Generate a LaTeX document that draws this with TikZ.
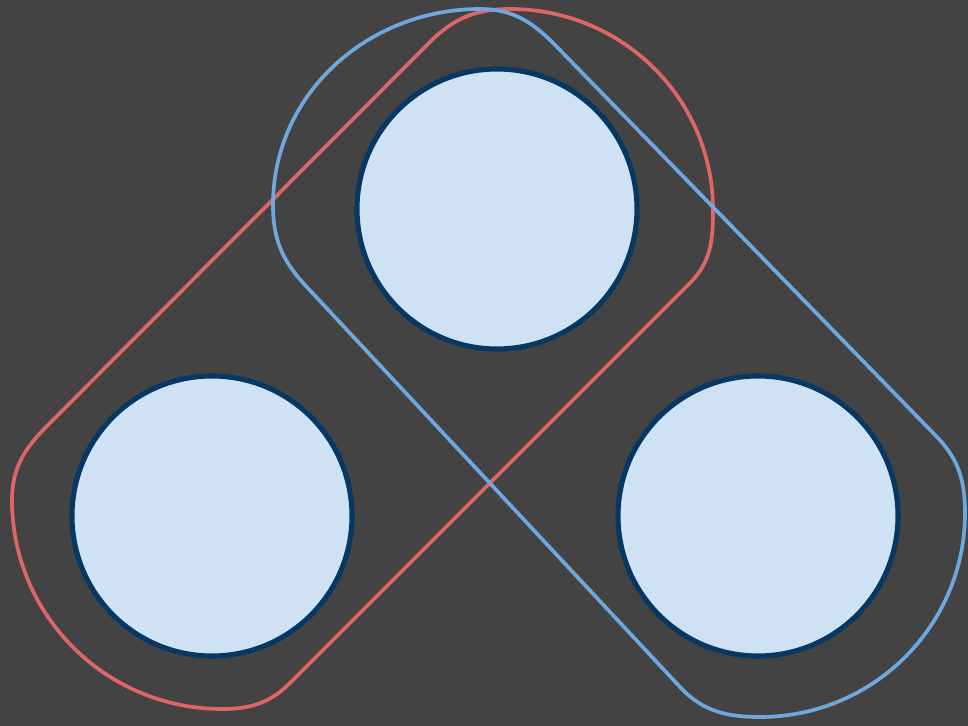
\documentclass[tikz,border=0pt]{standalone}
\usepackage{tikz}
\usetikzlibrary{positioning, calc}
\usepackage{xcolor}

\definecolor{bgdark}{HTML}{434343}
\definecolor{ballfill}{HTML}{CFE2F3}
\definecolor{balledge}{HTML}{073763}
\definecolor{hullred}{HTML}{E06666}
\definecolor{hullblue}{HTML}{6FA8DC}

\begin{document}
\begin{tikzpicture}[
        ball/.style={circle, draw=balledge, line width=2.9pt, fill=ballfill, minimum size=5.6cm, inner sep=0pt},
        redhull/.style={draw=hullred, line width=2.1pt, line join=round},
        bluehull/.style={draw=hullblue, line width=2.1pt, line join=round}
    ]

        \fill[bgdark] (0,0) rectangle (19.36,14.52);
        \useasboundingbox (0,0) rectangle (19.36,14.52);

        \node[ball] (top)   at (9.94, 10.34) {};
        \node[ball] (left)  at (4.24, 4.20) {};
        \node[ball] (right) at (15.16, 4.20) {};

        % hull round top and left
        \draw[redhull] (0.96, 6.02) -- (8.60, 13.68)
            to[out=45, in=180] (10.20, 14.34)
            to[out=0, in=90] (14.26, 10.32)
            to[out=-90, in=45] (13.80, 8.86)
            -- (5.80, 0.86)
            to[out=-135, in=0] (4.44, 0.34)
            to[out=180, in=-90] (0.24, 4.52)
            to[out=90, in=-135] cycle;

        % hull round top and right
        \draw[bluehull] (6.10, 8.82) -- (13.60, 0.78)
            to[out=-47, in=180] (15.20, 0.18)
            to[out=0, in=-90] (19.30, 4.26)
            to[out=90, in=-46] (18.74, 5.78)
            -- (11.14, 13.58)
            to[out=134, in=0] (9.60, 14.34)
            to[out=180, in=90] (5.46, 10.42)
            to[out=-90, in=133] cycle;

    \end{tikzpicture}
\end{document}
